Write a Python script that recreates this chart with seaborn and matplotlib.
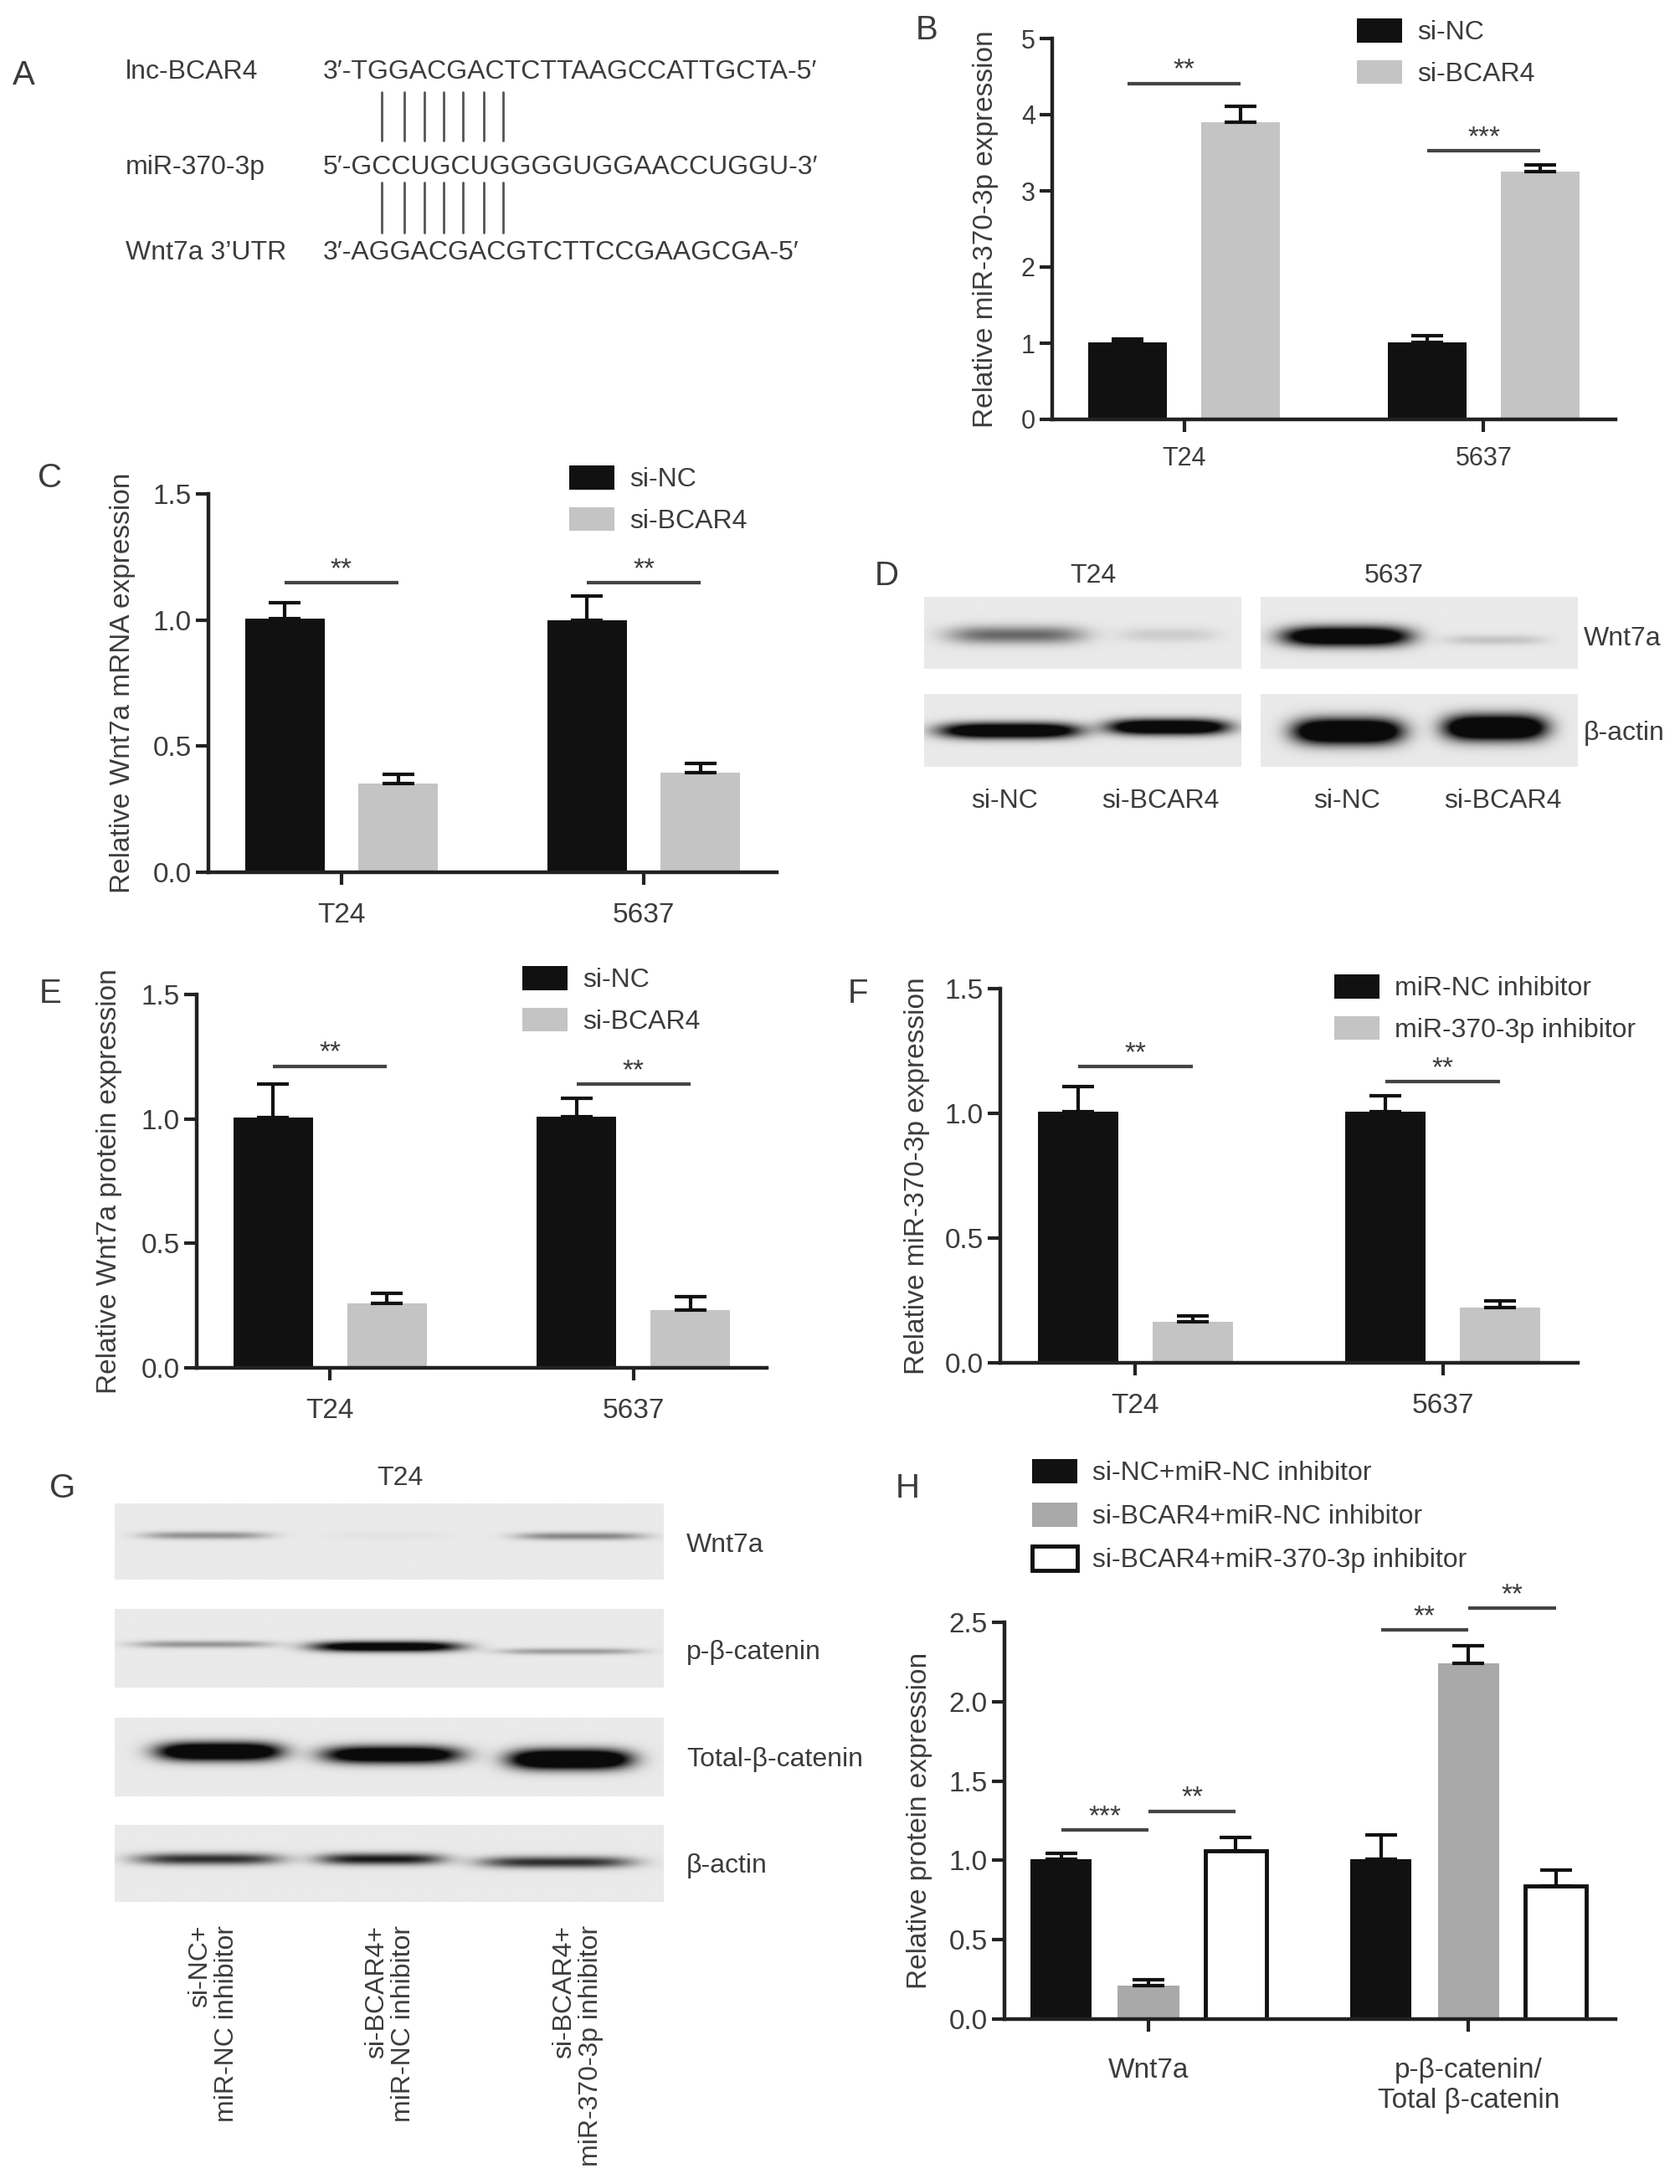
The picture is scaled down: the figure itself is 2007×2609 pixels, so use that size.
import numpy as np
import pandas as pd
import matplotlib
matplotlib.use('Agg')
import matplotlib.pyplot as plt
import seaborn as sns
from matplotlib.patches import Patch
from matplotlib.lines import Line2D
from matplotlib.container import BarContainer

sns.set_style('ticks')
plt.rcParams['font.family'] = ['Liberation Sans', 'DejaVu Sans']

# ---- data -------------------------------------------------------------
cells = ['T24', '5637']

# B: miR-370-3p after si-BCAR4
b_groups = ['si-NC', 'si-BCAR4']
b_mean = [[1.01, 1.01], [3.90, 3.25]]      # [group][cell]
b_err = [[0.04, 0.09], [0.21, 0.09]]
b_sig_y = [4.41, 3.53]
b_sig_txt = ['**', '***']

# C: Wnt7a mRNA
c_mean = [[1.005, 1.0], [0.352, 0.396]]
c_err = [[0.065, 0.095], [0.035, 0.037]]
c_sig_y = [1.148, 1.148]
c_sig_txt = ['**', '**']

# E: Wnt7a protein
e_mean = [[1.005, 1.008], [0.259, 0.233]]
e_err = [[0.134, 0.074], [0.041, 0.054]]
e_sig_y = [1.212, 1.139]
e_sig_txt = ['**', '**']

# F: miR-370-3p after inhibitor
f_groups = ['miR-NC inhibitor', 'miR-370-3p inhibitor']
f_mean = [[1.006, 1.006], [0.163, 0.223]]
f_err = [[0.10, 0.064], [0.024, 0.024]]
f_sig_y = [1.187, 1.126]
f_sig_txt = ['**', '**']

# H: protein quantification
h_cats = ['Wnt7a', 'p-β-catenin/\nTotal β-catenin']
h_groups = ['si-NC+miR-NC inhibitor', 'si-BCAR4+miR-NC inhibitor',
            'si-BCAR4+miR-370-3p inhibitor']
h_mean = [[1.006, 1.006], [0.212, 2.24], [1.06, 0.84]]
h_err = [[0.039, 0.154], [0.038, 0.11], [0.085, 0.10]]
# (category, hue a, hue b, y, text)
h_sig = [(0, 0, 1, 1.19, '***'), (0, 1, 2, 1.31, '**'),
         (1, 0, 1, 2.45, '**'), (1, 1, 2, 2.59, '**')]

# A: sequences
seq_names = ['lnc-BCAR4', 'miR-370-3p', 'Wnt7a 3\u2019UTR']
seq_text = ['3\u2032-TGGACGACTCTTAAGCCATTGCTA-5\u2032',
            '5\u2032-GCCUGCUGGGGUGGAACCUGGU-3\u2032',
            '3\u2032-AGGACGACGTCTTCCGAAGCGA-5\u2032']

# D: western blot band intensities (lane center, width, intensity, thickness, y)
d_lanes = ['si-NC', 'si-BCAR4', 'si-NC', 'si-BCAR4']
d_wnt_t24 = dict(xc=[0.29, 0.77], w=[0.43, 0.31], amp=[0.58, 0.13], th=[0.25, 0.2], yc=[0.53, 0.53])
d_wnt_5637 = dict(xc=[0.27, 0.74], w=[0.40, 0.32], amp=[1.6, 0.17], th=[0.27, 0.14], yc=[0.55, 0.60])
d_act_t24 = dict(xc=[0.27, 0.77], w=[0.44, 0.38], amp=[1.6, 1.6], th=[0.21, 0.21], yc=[0.51, 0.46])
d_act_5637 = dict(xc=[0.275, 0.74], w=[0.34, 0.32], amp=[1.8, 1.8], th=[0.34, 0.34], yc=[0.52, 0.47])

# G: western blot rows
g_rows = ['Wnt7a', 'p-\u03b2-catenin', 'Total-\u03b2-catenin', '\u03b2-actin']
g_lanes = ['si-NC+\nmiR-NC inhibitor', 'si-BCAR4+\nmiR-NC inhibitor',
           'si-BCAR4+\nmiR-370-3p inhibitor']
g_wnt = dict(xc=[0.165, 0.50, 0.85], w=[0.23, 0.22, 0.235], amp=[0.40, 0.03, 0.45], th=[0.10, 0.10, 0.10], yc=[0.42, 0.42, 0.43])
g_pb = dict(xc=[0.16, 0.495, 0.83], w=[0.255, 0.27, 0.26], amp=[0.38, 1.4, 0.35], th=[0.09, 0.13, 0.08], yc=[0.45, 0.48, 0.54])
g_tot = dict(xc=[0.19, 0.505, 0.83], w=[0.225, 0.25, 0.22], amp=[1.7, 1.5, 1.8], th=[0.23, 0.22, 0.25], yc=[0.43, 0.47, 0.53])
g_act = dict(xc=[0.17, 0.485, 0.805], w=[0.265, 0.23, 0.28], amp=[0.85, 0.95, 0.85], th=[0.15, 0.15, 0.15], yc=[0.45, 0.45, 0.49])

# ---- layout helpers ---------------------------------------------------
W, H = 2008, 2609
DPI = 100
TXT = '#3c3c3c'
AX = '#222222'
BLACK = '#111111'
GREY = '#c4c4c4'
GREY_H = '#a9a9a9'
FS = 23

fig = plt.figure(figsize=(W / DPI, H / DPI), dpi=DPI)


def fx(x):
    return x / W


def fy(y):
    return 1 - y / H


def rect(l, t, r, b):
    return [l / W, 1 - b / H, (r - l) / W, (b - t) / H]


def ftext(x, y, s, **kw):
    kw.setdefault('fontsize', FS)
    kw.setdefault('color', TXT)
    fig.text(fx(x), fy(y), s, **kw)


def bar_panel(box, cats, groups, mean, err, colors, edges, lws, width, gap,
              ymax, yticks, yfmt, ylabel, label_x, xlim, tickpad, tickfs):
    l, t, r, b = box
    ax = fig.add_axes(rect(l, t, r, b))
    rows = []
    for gi, g in enumerate(groups):
        for ci, c in enumerate(cats):
            rows.append({'cat': c, 'group': g, 'value': mean[gi][ci]})
    df = pd.DataFrame(rows)
    sns.barplot(data=df, x='cat', y='value', hue='group', order=cats,
                hue_order=groups, palette=colors, width=width, gap=gap,
                errorbar=None, legend=False, saturation=1, ax=ax)
    bars = [c for c in ax.containers if isinstance(c, BarContainer)]
    centers = {}
    for gi, cont in enumerate(bars):
        for p in cont.patches:
            p.set_edgecolor(edges[gi])
            p.set_linewidth(lws[gi])
            xc = p.get_x() + p.get_width() / 2
            ci = int(round(xc))
            centers[(gi, ci)] = xc
            ax.errorbar(xc, p.get_height(), yerr=[[0], [err[gi][ci]]],
                        fmt='none', ecolor=BLACK, elinewidth=3, capsize=14,
                        capthick=3, zorder=1)
    ax.set_xlim(*xlim)
    ax.set_ylim(0, ymax)
    ax.set_yticks(yticks)
    ax.set_yticklabels([yfmt.format(v) for v in yticks])
    ax.set_xlabel('')
    ax.set_ylabel(ylabel, fontsize=24, color=TXT)
    ax.yaxis.set_label_coords((label_x + 15 - l) / (r - l), 0.5)
    sns.despine(ax=ax)
    ax.spines['left'].set_bounds(0, ymax)
    for s in ('left', 'bottom'):
        ax.spines[s].set_linewidth(3.2)
        ax.spines[s].set_color(AX)
    ax.tick_params(axis='both', width=3, length=11, color=AX,
                   labelsize=tickfs, labelcolor=TXT)
    ax.tick_params(axis='x', pad=tickpad)
    ax.set_facecolor('none')
    return ax, centers


def sig(ax, x1, x2, y, s):
    ax.plot([x1, x2], [y, y], color='#444444', lw=3, solid_capstyle='butt',
            clip_on=False)
    ax.text((x1 + x2) / 2, y, s, ha='center', va='bottom', fontsize=24,
            color=TXT, clip_on=False)


def legend(ax, labels, colors, edges, lws, x, y, spacing):
    handles = [Patch(facecolor=c, edgecolor=e, linewidth=lw, label=lab)
               for lab, c, e, lw in zip(labels, colors, edges, lws)]
    leg = ax.legend(handles=handles, loc='upper left', bbox_to_anchor=(fx(x), fy(y)),
                    bbox_transform=fig.transFigure, frameon=False, fontsize=FS,
                    handlelength=1.7, handleheight=1.0, handletextpad=0.55,
                    labelspacing=spacing, borderpad=0, borderaxespad=0)
    for tx in leg.get_texts():
        tx.set_color(TXT)


def blot(box, spec, bg=0.915):
    l, t, r, b = box
    ax = fig.add_axes(rect(l, t, r, b))
    xs = np.linspace(0, 1, 500)
    ys = np.linspace(0, 1, 120)
    X, Y = np.meshgrid(xs, ys)
    dark = np.zeros_like(X)
    for xc, w, amp, th, yc in zip(spec['xc'], spec['w'], spec['amp'], spec['th'], spec['yc']):
        prof = np.exp(-np.abs((X - xc) / (w / 2)) ** 4) * np.exp(-((Y - yc) / (th / 2)) ** 2)
        dark += amp * prof
    img = bg - (bg - 0.04) * np.clip(dark, 0, 1)
    ax.imshow(img, cmap='gray', vmin=0, vmax=1, aspect='auto',
              interpolation='bilinear', extent=(0, 1, 1, 0))
    ax.set_axis_off()
    return ax


# ---- panel letters ----------------------------------------------------
for letter, x, y in [('A', 28, 90), ('B', 1107, 36), ('C', 60, 571),
                     ('D', 1059, 688), ('E', 60, 1187), ('F', 1025, 1187),
                     ('G', 75, 1778), ('H', 1084, 1778)]:
    ftext(x, y, letter, fontsize=29, ha='center', va='center')

# ---- A: sequence alignment -------------------------------------------
for name, seq, y in zip(seq_names, seq_text, [86, 200, 302]):
    ftext(150, y, name, ha='left', va='center')
    ftext(386, y, seq, ha='left', va='center')
for x in [456, 483, 507, 530, 553, 578, 601]:
    for y0, y1 in [(110, 168), (218, 278)]:
        fig.add_artist(Line2D([fx(x), fx(x)], [fy(y0), fy(y1)],
                              transform=fig.transFigure, color='#555555', lw=2))

XL2 = (-0.44, 1.44)

# ---- B ----------------------------------------------------------------
ax, cen = bar_panel((1257, 46, 1930, 501), cells, b_groups, b_mean, b_err,
                    [BLACK, GREY], [BLACK, GREY], [0, 0], 0.75, 0.3,
                    5, [0, 1, 2, 3, 4, 5], '{:.0f}', 'Relative miR-370-3p expression',
                    1178, XL2, 12, 22)
for ci in range(2):
    sig(ax, cen[(0, ci)], cen[(1, ci)], b_sig_y[ci], b_sig_txt[ci])
legend(ax, b_groups, [BLACK, GREY], [BLACK, GREY], [0, 0], 1621, 22, 0.55)

# ---- C ----------------------------------------------------------------
ax, cen = bar_panel((249, 590, 928, 1042), cells, b_groups, c_mean, c_err,
                    [BLACK, GREY], [BLACK, GREY], [0, 0], 0.75, 0.3,
                    1.5, [0, 0.5, 1.0, 1.5], '{:.1f}', 'Relative Wnt7a mRNA expression',
                    147, XL2, 15, 24)
for ci in range(2):
    sig(ax, cen[(0, ci)], cen[(1, ci)], c_sig_y[ci], c_sig_txt[ci])
legend(ax, b_groups, [BLACK, GREY], [BLACK, GREY], [0, 0], 680, 556, 0.55)

# ---- E ----------------------------------------------------------------
ax, cen = bar_panel((235, 1188, 916, 1634), cells, b_groups, e_mean, e_err,
                    [BLACK, GREY], [BLACK, GREY], [0, 0], 0.75, 0.3,
                    1.5, [0, 0.5, 1.0, 1.5], '{:.1f}', 'Relative Wnt7a protein expression',
                    131, XL2, 15, 24)
for ci in range(2):
    sig(ax, cen[(0, ci)], cen[(1, ci)], e_sig_y[ci], e_sig_txt[ci])
legend(ax, b_groups, [BLACK, GREY], [BLACK, GREY], [0, 0], 624, 1154, 0.55)

# ---- F ----------------------------------------------------------------
ax, cen = bar_panel((1195, 1181, 1885, 1628), cells, f_groups, f_mean, f_err,
                    [BLACK, GREY], [BLACK, GREY], [0, 0], 0.75, 0.3,
                    1.5, [0, 0.5, 1.0, 1.5], '{:.1f}', 'Relative miR-370-3p expression',
                    1096, XL2, 15, 24)
for ci in range(2):
    sig(ax, cen[(0, ci)], cen[(1, ci)], f_sig_y[ci], f_sig_txt[ci])
legend(ax, f_groups, [BLACK, GREY], [BLACK, GREY], [0, 0], 1594, 1164, 0.55)

# ---- H ----------------------------------------------------------------
ax, cen = bar_panel((1200, 1938, 1930, 2412), h_cats, h_groups, h_mean, h_err,
                    [BLACK, GREY_H, 'white'], [BLACK, GREY_H, BLACK], [0, 0, 3.5],
                    0.82, 0.3, 2.5, [0, 0.5, 1.0, 1.5, 2.0, 2.5], '{:.1f}',
                    'Relative protein expression', 1099, (-0.45, 1.46), 22, 24)
for ci, ga, gb, y, s in h_sig:
    sig(ax, cen[(ga, ci)], cen[(gb, ci)], y, s)
legend(ax, h_groups, [BLACK, GREY_H, 'white'], [BLACK, GREY_H, BLACK], [0, 0, 3.5],
       1233, 1743, 0.62)

# ---- D: western blots -------------------------------------------------
blot((1104, 713, 1483, 799), d_wnt_t24)
blot((1506, 713, 1884, 799), d_wnt_5637)
blot((1104, 829, 1483, 916), d_act_t24)
blot((1506, 829, 1884, 916), d_act_5637)
ftext(1306, 688, 'T24', ha='center', va='center')
ftext(1665, 688, '5637', ha='center', va='center')
ftext(1892, 763, 'Wnt7a', ha='left', va='center')
ftext(1892, 876, '\u03b2-actin', ha='left', va='center')
for lab, x in zip(d_lanes, [1200, 1386, 1609, 1795]):
    ftext(x, 957, lab, ha='center', va='center')

# ---- G: western blots -------------------------------------------------
g_boxes = [(137, 1796, 793, 1887), (137, 1922, 793, 2016),
           (137, 2052, 793, 2146), (137, 2180, 793, 2272)]
for bx, spec in zip(g_boxes, [g_wnt, g_pb, g_tot, g_act]):
    blot(bx, spec)
for lab, y in zip(g_rows, [1846, 1974, 2102, 2229]):
    ftext(820, y, lab, ha='left', va='center')
ftext(478, 1766, 'T24', ha='center', va='center')
for lab, x in zip(g_lanes, [255, 466, 690]):
    ftext(x, 2300, lab, ha='center', va='top', rotation=90, multialignment='right',
          linespacing=1.05)

fig.savefig('out.png', dpi=DPI)
